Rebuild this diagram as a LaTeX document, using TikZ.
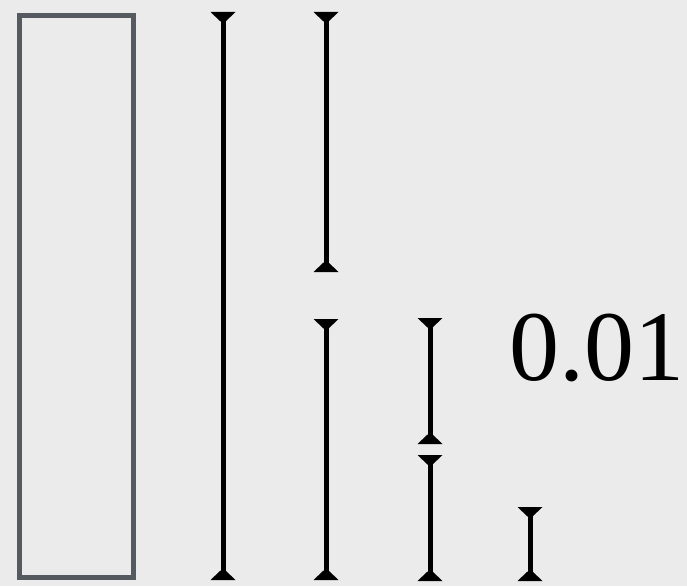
\documentclass[tikz,border=0pt]{standalone}
\usepackage{fontspec}
\setmainfont{Liberation Serif}
\newfontfamily\numfont{Liberation Serif}
\usetikzlibrary{calc}
\definecolor{bg}{HTML}{EBEBEB}
\definecolor{rim}{HTML}{545A60}
\newcommand{\ebar}[4]{%
  % #1 name, #2 x, #3 top y, #4 bottom y
  \coordinate (#1t) at (#2,#3);
  \coordinate (#1b) at (#2,#4);
  \draw[barline] (#1t) -- (#1b);
  \fill[black] ($(#1t)+(-12.5,0)$) -- ($(#1t)+(12.5,0)$) -- ($(#1t)+(2.5,9.5)$) -- ($(#1t)+(-2.5,9.5)$) -- cycle;
  \fill[black] ($(#1b)+(-12.5,0)$) -- ($(#1b)+(12.5,0)$) -- ($(#1b)+(2.5,-9.5)$) -- ($(#1b)+(-2.5,-9.5)$) -- cycle;
}
\begin{document}
\begin{tikzpicture}[x=1pt,y=-1pt,
  barline/.style={line width=5pt,black},
  frame/.style={draw=rim,line width=5pt}]
\fill[bg] (0,0) rectangle (687,586);
\useasboundingbox (0,0) rectangle (687,586);
\draw[frame] (19.5,15.5) rectangle (133.5,577);
\ebar{a}{223}{12}{580}
\ebar{b}{326}{12}{272}
\ebar{c}{326}{319}{580}
\ebar{d}{430}{318}{444}
\ebar{e}{430}{455}{581}
\ebar{f}{530}{507}{581}
\node[anchor=base west,inner sep=0pt,font=\numfont\fontsize{100pt}{100pt}\selectfont] (lbl) at (509,380.5) {0.01};
\end{tikzpicture}
\end{document}
